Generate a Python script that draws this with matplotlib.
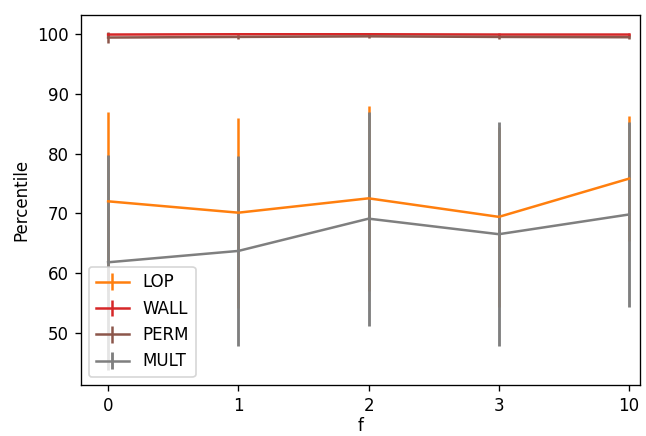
import matplotlib
matplotlib.use("Agg")
import matplotlib.pyplot as plt

f_labels = ["0", "1", "2", "3", "10"]

lop_mean = [72.0, 70.1, 72.5, 69.4, 75.8]
lop_err = [15.0, 15.9, 15.5, 15.0, 10.5]

wall_mean = [99.9, 99.95, 99.95, 99.9, 99.9]
wall_err = [0.3, 0.2, 0.15, 0.3, 0.2]

perm_mean = [99.4, 99.5, 99.6, 99.5, 99.45]
perm_err = [0.9, 0.3, 0.2, 0.3, 0.3]

mult_mean = [61.8, 63.7, 69.1, 66.5, 69.8]
mult_err = [18.0, 15.9, 17.9, 18.7, 15.5]

x = list(range(len(f_labels)))

fig = plt.figure(figsize=(646 / 120, 436 / 120), dpi=120)
ax = fig.add_axes([0.125, 0.116, 0.866, 0.850])

ax.errorbar(x, lop_mean, yerr=lop_err, color="tab:orange", label="LOP")
ax.errorbar(x, wall_mean, yerr=wall_err, color="tab:red", label="WALL")
ax.errorbar(x, perm_mean, yerr=perm_err, color="tab:brown", label="PERM")
# slightly wider error lines so the orange underneath does not tint them
ax.errorbar(x, mult_mean, yerr=mult_err, color="tab:gray", elinewidth=1.7, label="MULT")

ax.set_xticks(x)
ax.set_xticklabels(f_labels)
ax.set_xlim(-0.21, 4.085)
ax.set_ylim(41.2, 103.2)
ax.set_yticks([50, 60, 70, 80, 90, 100])
ax.set_xlabel("f", labelpad=1)
ax.set_ylabel("Percentile")
ax.legend(loc="lower left")

fig.savefig("out.png", dpi=120)
